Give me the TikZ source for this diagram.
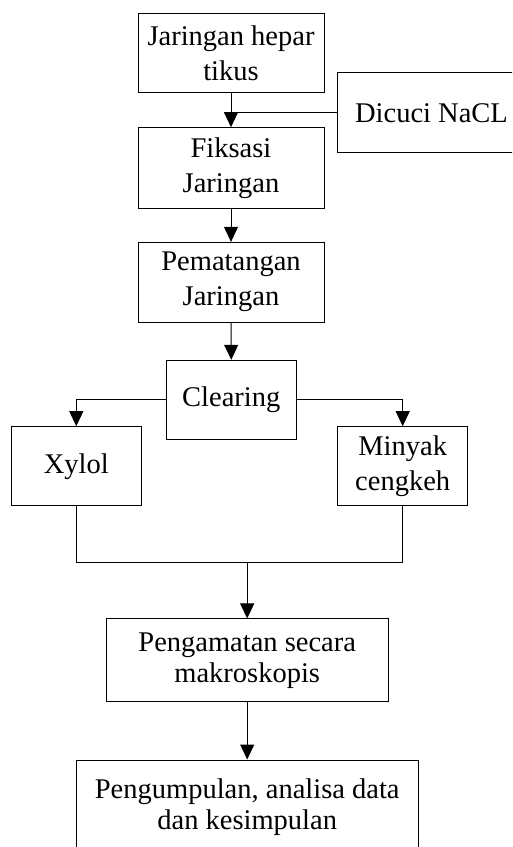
\documentclass[tikz,border=0pt]{standalone}
\usepackage{fontspec}
\setmainfont{Liberation Serif}
\usetikzlibrary{arrows.meta}
\begin{document}
\begin{tikzpicture}[x=1pt,y=-1pt,
  box/.style={draw,line width=1pt,rectangle,inner sep=0pt,align=center,
    font=\fontsize{28.5}{35}\selectfont},
  boxlow/.style={box,font=\fontsize{28.5}{31}\selectfont},
  conn/.style={line width=1pt},
  arr/.style={conn,-{Triangle[width=14pt,length=15pt]}}]
\clip (0,0) rectangle (512,847);
\fill[white] (0,0) rectangle (512,847);
\node[box,minimum width=186pt,minimum height=78.7pt] (jar) at (231,53.3) {Jaringan hepar\\tikus};
\node[box,minimum width=189pt,minimum height=80pt] (dic) at (431.5,112.7) {Dicuci NaCL};
\node[box,minimum width=186pt,minimum height=80.6pt] (fik) at (231,168) {Fiksasi\\Jaringan};
\node[box,minimum width=186pt,minimum height=79.7pt] (pem) at (231,282.2) {Pematangan\\Jaringan};
\node[box,minimum width=130pt,minimum height=79pt] (clr) at (231.3,399.8) {Clearing};
\node[box,minimum width=130pt,minimum height=79pt] (xyl) at (76.3,466.2) {Xylol};
\node[box,minimum width=130pt,minimum height=79pt] (min) at (402.7,466.2) {Minyak\\cengkeh};
\node[boxlow,minimum width=282.3pt,minimum height=82.7pt] (pen) at (247.2,660.3) {Pengamatan secara\\makroskopis};
\node[boxlow,minimum width=342.3pt,minimum height=94pt] (kum) at (247.2,807) {Pengumpulan, analisa data\\dan kesimpulan};
\coordinate (m) at (247.2,562.7);
\draw[arr] (jar.south) -- (fik.north);
\draw[conn] (dic.west) -- (dic.west -| jar.south);
\draw[arr] (fik.south) -- (pem.north);
\draw[arr] (pem.south) -- (clr.north);
\draw[arr] (clr.west) -| (xyl.north);
\draw[arr] (clr.east) -| (min.north);
\draw[conn] (xyl.south) |- (m);
\draw[conn] (min.south) |- (m);
\draw[arr] (m) -- (pen.north);
\draw[arr] (pen.south) -- (kum.north);
\end{tikzpicture}
\end{document}
